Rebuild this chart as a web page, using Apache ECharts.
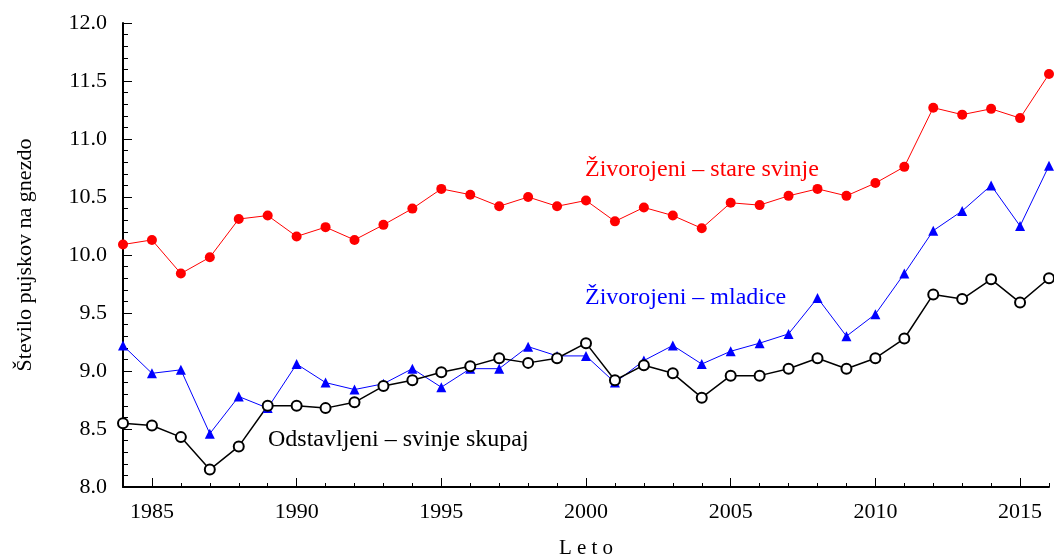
<!DOCTYPE html>
<html>
<head>
<meta charset="utf-8">
<script src="https://cdn.jsdelivr.net/npm/echarts@6/dist/echarts.min.js"></script>
<style>
  html, body { margin: 0; padding: 0; background: #fff; }
  #chart { width: 1054px; height: 558px; }
</style>
</head>
<body>
<div id="chart"></div>
<script>
// leta 1984-2016
const years = []
for (let y = 1984; y <= 2016; y++) years.push(String(y))

// Živorojeni - stare svinje
const stareSvinje = [10.09, 10.13, 9.84, 9.98, 10.31, 10.34, 10.16, 10.24, 10.13, 10.26,
  10.40, 10.57, 10.52, 10.42, 10.50, 10.42, 10.47, 10.29, 10.41, 10.34,
  10.23, 10.45, 10.43, 10.51, 10.57, 10.51, 10.62, 10.76, 11.27, 11.21,
  11.26, 11.18, 11.56]

// Živorojeni - mladice
const mladice = [9.22, 8.98, 9.01, 8.46, 8.78, 8.68, 9.06, 8.90, 8.84, 8.89,
  9.02, 8.86, 9.02, 9.02, 9.21, 9.13, 9.13, 8.90, 9.09, 9.22,
  9.06, 9.17, 9.24, 9.32, 9.63, 9.30, 9.49, 9.84, 10.21, 10.38,
  10.60, 10.25, 10.77]

// Odstavljeni - svinje skupaj
const odstavljeni = [8.55, 8.53, 8.43, 8.15, 8.35, 8.70, 8.70, 8.68, 8.73, 8.87,
  8.92, 8.99, 9.04, 9.11, 9.07, 9.11, 9.24, 8.92, 9.05, 8.98,
  8.77, 8.96, 8.96, 9.02, 9.11, 9.02, 9.11, 9.28, 9.66, 9.62,
  9.79, 9.59, 9.80]

const font = 'Liberation Serif'

const chart = echarts.init(document.getElementById('chart'))

const option = {
  animation: false,
  grid: { left: 123, right: 5, top: 23, bottom: 71, outerBoundsMode: 'none', containLabel: false },
  xAxis: [
    {
      type: 'category',
      data: years,
      boundaryGap: false,
      axisLine: { lineStyle: { color: '#000', width: 2 } },
      axisTick: { inside: true, length: 4, interval: 0, lineStyle: { color: '#000', width: 1 } },
      axisLabel: {
        interval: 0,
        margin: 14,
        fontFamily: font,
        fontSize: 22,
        color: '#000',
        formatter: (v) => (Number(v) % 5 === 0 ? v : '')
      },
      name: 'L e t o',
      nameLocation: 'middle',
      nameGap: 61,
      nameTextStyle: { fontFamily: font, fontSize: 21, color: '#000', verticalAlign: 'middle' }
    },
    {
      type: 'category',
      data: years,
      boundaryGap: false,
      position: 'bottom',
      axisLine: { show: false },
      axisTick: {
        inside: true,
        length: 9,
        interval: (i, v) => Number(v) % 5 === 0,
        lineStyle: { color: '#000', width: 1 }
      },
      axisLabel: { show: false }
    }
  ],
  yAxis: {
    type: 'value',
    min: 8,
    max: 12,
    interval: 0.5,
    splitLine: { show: false },
    axisLine: { show: true, lineStyle: { color: '#000', width: 2 } },
    axisTick: { show: true, inside: true, length: 9, lineStyle: { color: '#000' } },
    minorTick: { show: true, splitNumber: 5, length: 5, lineStyle: { color: '#000' } },
    axisLabel: {
      margin: 16,
      fontFamily: font,
      fontSize: 22,
      color: '#000',
      formatter: (v) => v.toFixed(1)
    },
    name: 'Število pujskov na gnezdo',
    nameLocation: 'middle',
    nameGap: 98,
    nameTextStyle: { fontFamily: font, fontSize: 22, color: '#000', verticalAlign: 'middle' }
  },
  series: [
    {
      name: 'Živorojeni – stare svinje',
      type: 'line',
      data: stareSvinje,
      symbol: 'circle',
      symbolSize: 10,
      clip: false,
      lineStyle: { color: '#ff0000', width: 1 },
      itemStyle: { color: '#ff0000' }
    },
    {
      name: 'Živorojeni – mladice',
      type: 'line',
      data: mladice,
      symbol: 'triangle',
      symbolSize: 10,
      clip: false,
      lineStyle: { color: '#0000ff', width: 1 },
      itemStyle: { color: '#0000ff' }
    },
    {
      name: 'Odstavljeni – svinje skupaj',
      type: 'line',
      data: odstavljeni,
      symbol: 'emptyCircle',
      symbolSize: 10,
      clip: false,
      lineStyle: { color: '#000', width: 1.5 },
      itemStyle: { color: '#000', borderColor: '#000', borderWidth: 1.2 }
    }
  ],
  graphic: [
    {
      type: 'text', left: 585, top: 158,
      style: { text: 'Živorojeni – stare svinje', fontFamily: font, fontSize: 24, fill: '#ff0000' }
    },
    {
      type: 'text', left: 585, top: 286,
      style: { text: 'Živorojeni – mladice', fontFamily: font, fontSize: 24, fill: '#0000ff' }
    },
    {
      type: 'text', left: 268, top: 428,
      style: { text: 'Odstavljeni – svinje skupaj', fontFamily: font, fontSize: 24, fill: '#000' }
    }
  ]
}

chart.setOption(option)
</script>
</body>
</html>
